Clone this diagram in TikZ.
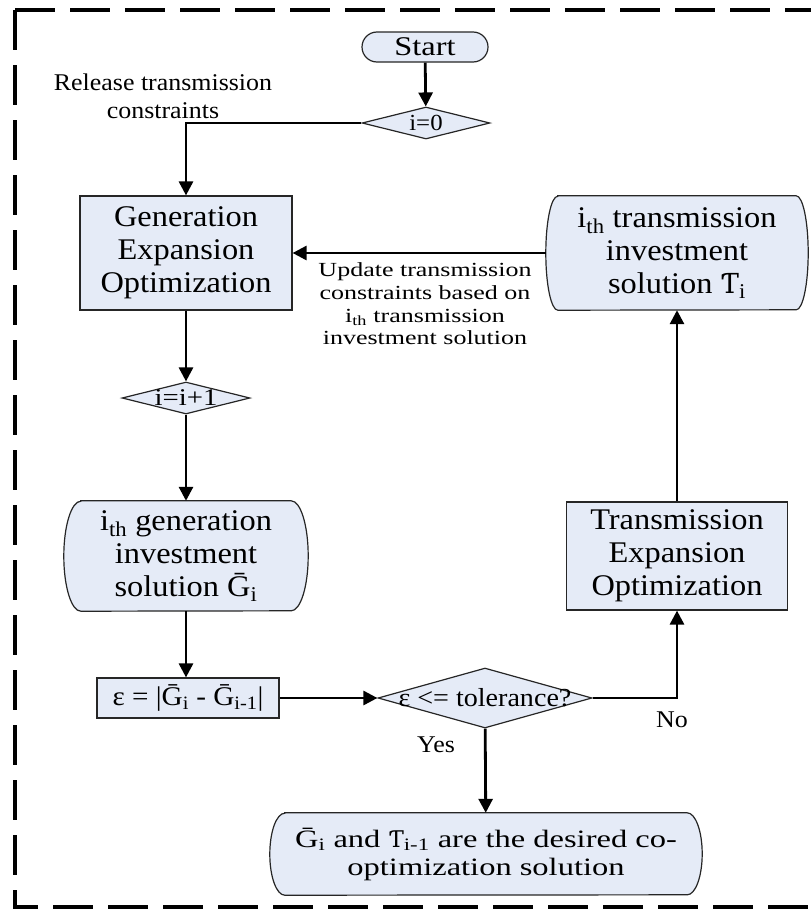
\documentclass[tikz,border=0pt]{standalone}
\usepackage{fontspec}
\setmainfont{Liberation Serif}
\newfontfamily\fA{Liberation Serif}[FakeStretch=1.08]
\newfontfamily\fB{Liberation Serif}[FakeStretch=1.2]
\newfontfamily\fC{Liberation Serif}[FakeStretch=1.3]
\newfontfamily\fT{DejaVu Serif}[Scale=0.92]
\newcommand\tsym{{\fT Ƭ}}
\usetikzlibrary{shapes.geometric,arrows.meta,calc,backgrounds}
\definecolor{boxfill}{RGB}{229,235,247}

\tikzset{
  boxline/.style={draw=black!85, line width=1.2pt, fill=boxfill},
  rectbox/.style={boxline, rectangle, inner sep=0pt, align=center},
  diam/.style={boxline, diamond, inner sep=0pt},
  plain/.style={inner sep=0pt, align=center},
  flow/.style={line width=2.8pt, -{Triangle[length=14pt,width=14pt]}},
  frame/.style={line width=3.5pt, dash pattern=on 40pt off 15pt},
  boxtext/.style={font=\fA\fontsize{30}{33}\selectfont},
  starttext/.style={font=\fB\fontsize{27}{30}\selectfont},
  relabel/.style={font=\fA\fontsize{24}{28}\selectfont},
  uplabel/.style={font=\fC\fontsize{20}{22.7}\selectfont},
  diamtext/.style={font=\fA\fontsize{23}{26}\selectfont},
  epstext/.style={font=\fA\fontsize{27}{30}\selectfont},
  endtext/.style={font=\fC\fontsize{25}{28}\selectfont},
}

% flat top and bottom, elliptic left and right sides
\newcommand\bulgeoutline[3]{%
  \begin{scope}[on background layer]
    \path[boxline] ($(#1.north west)+(#2,0)$) -- ($(#1.north east)+(-#2,0)$)
      arc[start angle=90, end angle=-90, x radius=#2pt, y radius=#3pt]
      -- ($(#1.south west)+(#2,0)$)
      arc[start angle=270, end angle=90, x radius=#2pt, y radius=#3pt] -- cycle;
  \end{scope}}

\begin{document}
\begin{tikzpicture}[x=1pt,y=-1pt]
\useasboundingbox (0,0) rectangle (811,913);

% dashed frame
\draw[frame] (15,10) -- (830,10);
\draw[frame] (15,10) -- (15,907) -- (830,907);

% start and initialisation
\node[boxline, rounded corners=15pt, minimum width=126pt, minimum height=30pt,
      inner sep=0pt, starttext] (start) at (425,47) {Start};
\node[diam, minimum width=128pt, minimum height=32pt] (init) at (426,123) {};
\node[plain, diamtext] (initt) at (init) {i=0};

% generation side
\node[rectbox, boxtext, minimum width=212pt, minimum height=114pt] (genexp) at (186,253)
  {Generation\\Expansion\\Optimization};
\node[diam, minimum width=128pt, minimum height=32pt] (inc) at (186,398) {};
\node[plain, diamtext, font=\fB\fontsize{24}{26}\selectfont] (inct) at (inc) {i=i+1};
\node[plain, boxtext, minimum width=244pt, minimum height=110pt] (geni) at (186,556)
  {i\textsubscript{th} generation\\investment\\solution Ḡ\textsubscript{i}};
\bulgeoutline{geni}{17}{55}
\node[rectbox, epstext, minimum width=182pt, minimum height=40pt] (eps) at (188,698)
  {ε = |Ḡ\textsubscript{i} - Ḡ\textsubscript{i-1}|};

% convergence test
\node[diam, minimum width=214pt, minimum height=60pt] (tol) at (485,698) {};
\node[plain, font=\fA\fontsize{26}{28}\selectfont] (tolt) at (tol) {ε <= tolerance?};

% transmission side
\node[rectbox, boxtext, minimum width=221pt, minimum height=108pt] (transexp) at (677,556)
  {Transmission\\Expansion\\Optimization};
\node[plain, boxtext, minimum width=262pt, minimum height=114pt] (transi) at (677,253)
  {i\textsubscript{th} transmission\\investment\\solution \tsym\textsubscript{i}};
\bulgeoutline{transi}{12}{57}

% result
\node[plain, endtext, minimum width=432pt, minimum height=82pt] (final) at (486,854)
  {Ḡ\textsubscript{i} and \tsym\textsubscript{i-1} are the desired co-\\optimization solution};
\bulgeoutline{final}{15}{41}

% labels
\node[plain, relabel] (rellbl) at (163,96) {Release transmission\\constraints};
\node[plain, uplabel] (updlbl) at (425,304)
  {Update transmission\\constraints based on\\i\textsubscript{th} transmission\\investment solution};
\node[plain, relabel] (yes) at (436,745) {Yes};
\node[plain, relabel] (no) at (672,720) {No};

% connectors
\draw[flow] (start) -- (init);
\draw[flow] (init.west) -| (genexp.north);
\draw[flow] (transi.west) -- (genexp.east);
\draw[flow] (genexp) -- (inc);
\draw[flow] (inc) -- (geni);
\draw[flow] (geni) -- (geni.south |- eps.north);
\draw[flow] (eps) -- (tol);
\draw[flow] (tol.east) -| (transexp.south);
\draw[flow] (transexp) -- (transi);
\draw[flow] (tol) -- (final);
\end{tikzpicture}
\end{document}
